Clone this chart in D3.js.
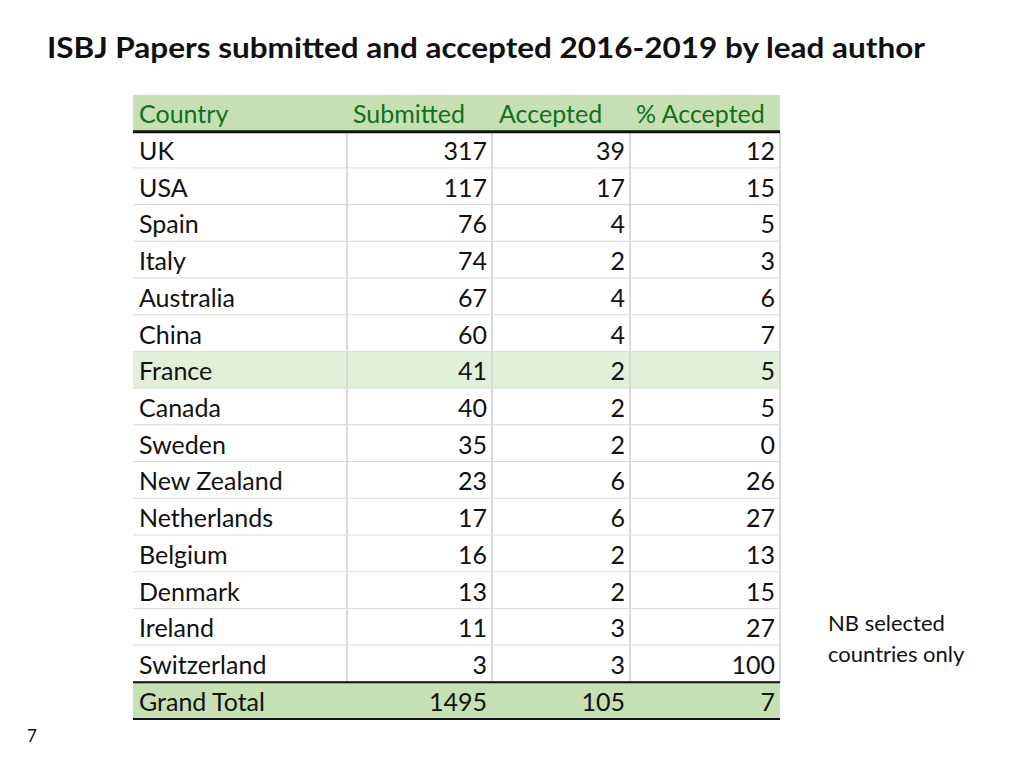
<!DOCTYPE html>
<html>
<head>
<meta charset="utf-8">
<script src="https://cdn.jsdelivr.net/npm/d3@7"></script>
<style>
  body { margin: 0; background: #fff; }
  svg { font-family: Lato, "Open Sans", sans-serif; }
</style>
</head>
<body>
<svg id="chart" width="1024" height="768"></svg>
<script>
const headers = ["Country", "Submitted", "Accepted", "% Accepted"];
const countries = ["UK", "USA", "Spain", "Italy", "Australia", "China", "France", "Canada", "Sweden",
  "New Zealand", "Netherlands", "Belgium", "Denmark", "Ireland", "Switzerland"];
const submitted = [317, 117, 76, 74, 67, 60, 41, 40, 35, 23, 17, 16, 13, 11, 3];
const accepted = [39, 17, 4, 2, 4, 4, 2, 2, 2, 6, 6, 2, 2, 3, 3];
const pctAccepted = [12, 15, 5, 3, 6, 7, 5, 5, 0, 26, 27, 13, 15, 27, 100];
const totalRow = ["Grand Total", 1495, 105, 7];

const svg = d3.select("#chart");
svg.append("text").attr("x", 47).attr("y", 58).attr("font-size", 29).attr("font-weight", "bold")
  .attr("textLength", 878).attr("lengthAdjust", "spacingAndGlyphs")
  .attr("fill", "#111").text("ISBJ Papers submitted and accepted 2016-2019 by lead author");

const colEdges = [133, 347, 492, 630, 780];
const headerX = [139, 353, 499, 636];
const rowKeys = ["header", ...countries, "total"];
const y = d3.scaleBand().domain(rowKeys).range([95, 719]).paddingInner(0);
const bw = y.bandwidth();

const rows = [headers, ...countries.map((c, i) => [c, submitted[i], accepted[i], pctAccepted[i]]), totalRow];

const g = svg.append("g");
rows.forEach((r, i) => {
  const key = rowKeys[i];
  const top = y(key);
  let fill = "#fff";
  if (key === "header" || key === "total") fill = "#c6e0b4";
  else if (key === "France") fill = "#e2efda";
  g.append("rect").attr("x", colEdges[0]).attr("y", top).attr("width", colEdges[4] - colEdges[0])
    .attr("height", bw).attr("fill", fill);
  if (key !== "header" && key !== "total") {
    g.append("line").attr("x1", colEdges[0]).attr("x2", colEdges[4]).attr("y1", top + bw).attr("y2", top + bw)
      .attr("stroke", "#d9d9d9").attr("stroke-width", 2);
    [1, 2, 3, 4].forEach(k => g.append("line").attr("x1", colEdges[k]).attr("x2", colEdges[k])
      .attr("y1", top).attr("y2", top + bw).attr("stroke", "#d9d9d9").attr("stroke-width", 2));
  }
  r.forEach((v, j) => {
    const isHeader = key === "header";
    const t = g.append("text").attr("font-size", 25).attr("y", top + bw / 2 + 10)
      .attr("fill", isHeader ? "#11701a" : "#111").text(v);
    if (isHeader) t.attr("x", headerX[j]);
    else if (j === 0) t.attr("x", colEdges[0] + 6);
    else t.attr("x", colEdges[j + 1] - 5).attr("text-anchor", "end");
  });
});
[[y("header") + bw, 3], [y("total"), 2], [y("total") + bw, 2]].forEach(([yy, w]) =>
  g.append("line").attr("x1", colEdges[0]).attr("x2", colEdges[4]).attr("y1", yy).attr("y2", yy)
    .attr("stroke", "#111").attr("stroke-width", w));

svg.append("text").attr("x", 828).attr("y", 631).attr("font-size", 22).attr("fill", "#111").text("NB selected");
svg.append("text").attr("x", 828).attr("y", 662).attr("font-size", 22).attr("fill", "#111").text("countries only");
svg.append("text").attr("x", 27).attr("y", 742).attr("font-size", 17).attr("fill", "#111").text("7");
</script>
</body>
</html>
